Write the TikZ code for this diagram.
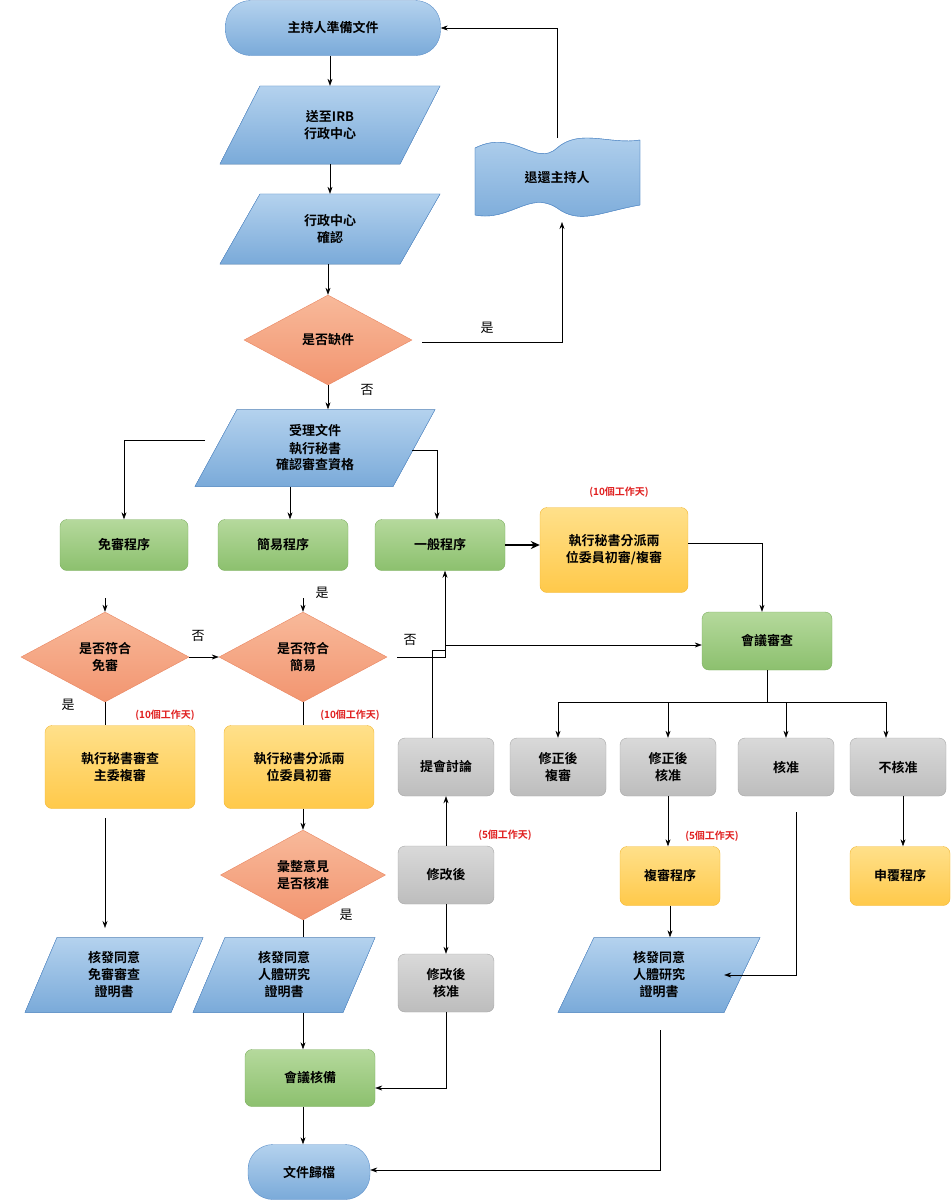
\documentclass[tikz,border=0pt]{standalone}
\usepackage{fontspec}
\setmainfont{Liberation Serif}
\newfontfamily\cjk{Noto Sans CJK TC}[BoldFont={Noto Sans CJK TC Bold}]
\usetikzlibrary{shapes.geometric,arrows.meta}
\definecolor{bl1}{HTML}{B4D2EE}\definecolor{bl2}{HTML}{7AAAD9}\definecolor{blD}{HTML}{5B8FC9}
\definecolor{gr1}{HTML}{B5D99C}\definecolor{gr2}{HTML}{8CC06E}\definecolor{grD}{HTML}{7BAE5E}
\definecolor{ye1}{HTML}{FFE08A}\definecolor{ye2}{HTML}{FFC94A}\definecolor{yeD}{HTML}{F2B632}
\definecolor{or1}{HTML}{F8B99A}\definecolor{or2}{HTML}{F29570}\definecolor{orD}{HTML}{E98560}
\definecolor{gy1}{HTML}{D9D9D9}\definecolor{gy2}{HTML}{BDBDBD}\definecolor{gyD}{HTML}{A6A6A6}
\definecolor{redlab}{HTML}{E02020}
\tikzset{
 txt/.style={font=\cjk\bfseries\fontsize{13}{17}\selectfont, align=center},
 bx/.style={txt, rounded corners=7pt, minimum width=#1},
 blue/.style={top color=bl1,bottom color=bl2,draw=blD},
 green/.style={top color=gr1,bottom color=gr2,draw=grD},
 yel/.style={top color=ye1,bottom color=ye2,draw=yeD},
 ora/.style={top color=or1,bottom color=or2,draw=orD},
 gray/.style={top color=gy1,bottom color=gy2,draw=gyD},
 dia/.style={txt,diamond,aspect=1.85,minimum width=168pt,minimum height=90pt,inner sep=0pt},
 arr/.style={-{Stealth[length=7pt,width=5pt]},black,line width=0.6pt},
 ln/.style={black,line width=0.6pt},
 lab/.style={font=\cjk\fontsize{13}{15}\selectfont},
 red/.style={font=\cjk\bfseries\fontsize{10}{12}\selectfont,text=redlab},
}
\newcommand{\mypara}[8]{%
 \fill[#7] (#2-#4/2+#6,#3-#5/2) -- (#2+#4/2,#3-#5/2) -- (#2+#4/2-#6,#3+#5/2) -- (#2-#4/2,#3+#5/2) -- cycle;
 \draw[#7,fill=none] (#2-#4/2+#6,#3-#5/2) -- (#2+#4/2,#3-#5/2) -- (#2+#4/2-#6,#3+#5/2) -- (#2-#4/2,#3+#5/2) -- cycle;
 \node[txt,minimum width=#4pt-2*#6pt,minimum height=#5pt,inner sep=0pt] (#1) at (#2,#3) {#8};}
\begin{document}
\begin{tikzpicture}[x=1pt,y=-1pt]
\useasboundingbox (0,0) rectangle (951,1200);
\node[bx=215pt,blue,rounded corners=25pt,minimum height=55pt] (start) at (333,28) {主持人準備文件};
\mypara{send}{330}{125}{220}{78}{40}{blue}{送至IRB\\行政中心}
\mypara{conf}{330}{229}{220}{70}{40}{blue}{行政中心\\確認}
\node[dia,ora] (d0) at (328,340) {是否缺件};
\mypara{acc}{315}{448}{240}{77}{42}{blue}{受理文件\\執行秘書\\確認審查資格}
\path[blue] (475,148) .. controls (515,128) and (535,168) .. (557,148) .. controls (580,128) and (610,145) .. (640,140)
 -- (640,205) .. controls (600,212) and (580,225) .. (557,208) .. controls (530,190) and (510,222) .. (475,215) -- cycle;
\draw[blD] (475,148) .. controls (515,128) and (535,168) .. (557,148) .. controls (580,128) and (610,145) .. (640,140)
 -- (640,205) .. controls (600,212) and (580,225) .. (557,208) .. controls (530,190) and (510,222) .. (475,215) -- cycle;
\node[txt,minimum width=160pt,minimum height=60pt,inner sep=0pt] (tape) at (557,178) {退還主持人};
\node[bx=128pt,green,minimum height=51pt] (ex) at (124,545) {免審程序};
\node[bx=130pt,green,minimum height=51pt] (sim) at (283,545) {簡易程序};
\node[bx=130pt,green,minimum height=51pt] (gen) at (440,545) {一般程序};
\node[bx=148pt,yel,minimum height=85pt] (assign) at (614,550) {執行秘書分派兩\\位委員初審/複審};
\node[red] at (619,492) {(10個工作天)};
\node[bx=130pt,green,minimum height=58pt] (meet) at (767,641) {會議審查};
\node[dia,ora] (d1) at (105,657) {是否符合\\免審};
\node[dia,ora] (d2) at (303,657) {是否符合\\簡易};
\node[bx=150pt,yel,minimum height=83pt] (y1) at (120,767) {執行秘書審查\\主委複審};
\node[red] at (165,715) {(10個工作天)};
\node[bx=150pt,yel,minimum height=83pt] (y2) at (299,767) {執行秘書分派兩\\位委員初審};
\node[red] at (350,715) {(10個工作天)};
\node[bx=96pt,gray,minimum height=58pt] (disc) at (446,767) {提會討論};
\node[bx=96pt,gray,minimum height=58pt] (g1) at (558,767) {修正後\\複審};
\node[bx=96pt,gray,minimum height=58pt] (g2) at (668,767) {修正後\\核准};
\node[bx=96pt,gray,minimum height=58pt] (g3) at (786,767) {核准};
\node[bx=96pt,gray,minimum height=58pt] (g4) at (898,767) {不核准};
\node[dia,ora,minimum width=165pt] (d3) at (303,875) {彙整意見\\是否核准};
\node[bx=96pt,gray,minimum height=58pt] (mod) at (446,875) {修改後};
\node[red] at (505,835) {(5個工作天)};
\node[bx=100pt,yel,minimum height=59pt] (rev) at (670,876) {複審程序};
\node[red] at (712,836) {(5個工作天)};
\node[bx=100pt,yel,minimum height=59pt] (app) at (900,876) {申覆程序};
\mypara{c1}{114}{975}{178}{75}{32}{blue}{核發同意\\免審審查\\證明書}
\mypara{c2}{284}{975}{182}{75}{32}{blue}{核發同意\\人體研究\\證明書}
\node[bx=96pt,gray,minimum height=58pt] (modok) at (446,983) {修改後\\核准};
\mypara{c3}{659}{975}{202}{75}{36}{blue}{核發同意\\人體研究\\證明書}
\node[bx=130pt,green,minimum height=57pt] (note) at (310,1078) {會議核備};
\node[bx=122pt,blue,rounded corners=25pt,minimum height=55pt] (arch) at (309,1172) {文件歸檔};
% connectors
\draw[arr] (start.south -| 330,0) -- (send.north -| 330,0);
\draw[arr] (send.south -| 330,0) -- (conf.north -| 330,0);
\draw[arr] (conf.south -| 328,0) -- (d0.north);
\draw[arr] (d0.south) -- (acc.north -| d0.south);
\node[lab] at (367,390) {否};
\coordinate (r0) at (422,342);
\draw[arr] (r0) -- (562,342) -- (562,222);
\node[lab] at (487,328) {是};
\draw[arr] (557,138) -- (557,28) -- (start.east);
\draw[arr] (205,440) -| (ex.north);
\draw[arr] (acc.south -| 290,0) -- (sim.north -| 290,0);
\draw[arr] (412,450) -- (437,450) -- (gen.north -| 437,0);
\draw[-{Stealth[length=9pt,width=8pt]},line width=2pt] (gen) -- (assign.west |- gen);
\draw[arr] (assign.east |- 0,543) -- (762,543) -- (meet.north -| 762,0);
\draw[arr] (105,598) -- (d1.north);
\draw[arr] (303,598) -- (d2.north);
\node[lab] at (322,593) {是};
\draw[arr] (d1) -- (d2);
\node[lab] at (198,636) {否};
\draw[arr] (397,657) -- (445,657) -- (445,645) -- (meet.west |- 0,645);
\node[lab] at (410,640) {否};
\draw[arr] (disc.north -| 432,0) -- (432,650) -- (445,650) -- (gen.south -| 445,0);
\draw[ln] (d1.south) -- (y1.north -| d1.south);
\node[lab] at (68,705) {是};
\draw[ln] (d2.south) -- (y2.north -| d2.south);
\draw[arr] (105,818) -- (105,928);
\draw[arr] (y2.south -| 303,0) -- (d3.north);
\draw[ln] (d3.south) -- (303,937);
\node[lab] at (346,915) {是};
\draw[arr] (c2.south -| 303,0) -- (note.north -| 303,0);
\draw[arr] (note.south -| 303,0) -- (arch.north -| 303,0);
\draw[arr] (mod) -- (disc);
\draw[arr] (mod) -- (modok);
\draw[arr] (modok.south) -- (446,1088) -- (note.east |- 0,1088);
\draw[ln] (meet.south) -- (767,702);
\draw[ln] (558,702) -- (886,702);
\foreach \g in {g1,g2,g3} \draw[arr] (\g.north |- 0,702) -- (\g.north);
\draw[arr] (886,702) -- (g4.north -| 886,0);
\draw[arr] (g2.south) -- (rev.north -| g2.south);
\draw[arr] (rev) -- (c3.north -| rev);
\draw[arr] (g4.south -| 903,0) -- (app.north -| 903,0);
\draw[arr] (796,812) -- (796,975) -- (c3.east);
\draw[arr] (660,1030) -- (660,1170) -- (arch.east |- 0,1170);
\end{tikzpicture}
\end{document}
